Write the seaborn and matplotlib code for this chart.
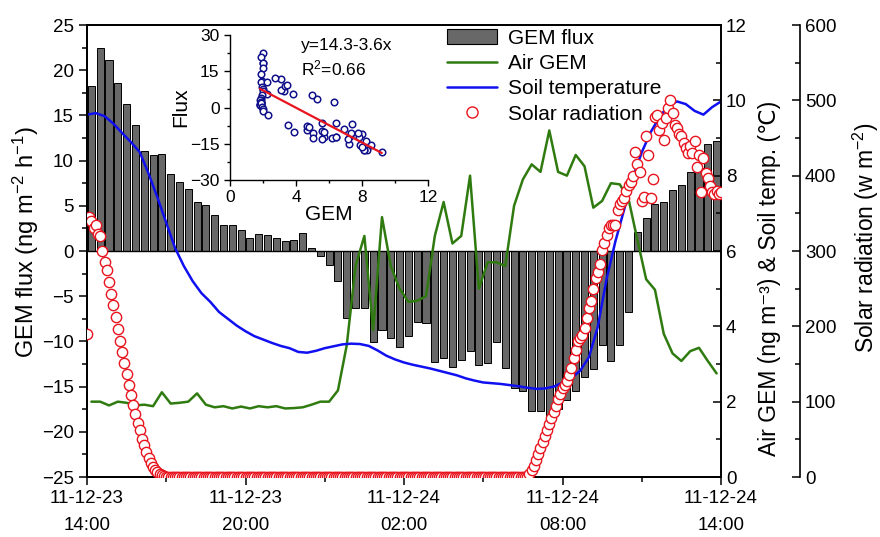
import numpy as np
import seaborn as sns
import matplotlib.pyplot as plt
from matplotlib.patches import Patch
from matplotlib.lines import Line2D
from matplotlib.ticker import MultipleLocator

# ------------------------------------------------
# data (time = hours after 11-12-23 14:00)
# ------------------------------------------------
# GEM flux (ng m-2 h-1), one value per 20-min run, centred in the run
flux = [18.3, 22.5, 21.1, 18.6, 16.3, 13.9, 11.1, 10.6, 10.7, 8.5, 7.6, 6.9,
        5.4, 5.1, 4.0, 2.9, 2.9, 2.3, 1.4, 1.9, 1.8, 1.4, 1.1, 1.2,
        2.0, 0.3, -0.5, -1.6, -3.3, -7.4, -6.3, -6.3, -10.1, -8.7, -9.6, -10.6,
        -9.4, -7.8, -8.0, -12.3, -11.8, -12.8, -12.1, -11.1, -12.6, -12.4, -10.1, -12.9,
        -15.2, -15.5, -17.7, -17.7, -18.5, -17.5, -16.5, -15.5, -13.9, -13.0, -10.4, -12.2,
        -10.4, -6.7, 2.1, 3.7, 5.2, 5.4, 6.7, 7.3, 8.7, 9.2, 11.8, 12.2]

# Air GEM (ng m-3), same runs as the flux
air_gem = [2.0, 2.0, 1.9, 2.0, 1.97, 1.9, 1.92, 1.88, 2.25, 1.95, 1.97, 2.0,
           2.22, 1.92, 1.85, 1.88, 1.82, 1.87, 1.82, 1.88, 1.85, 1.88, 1.82, 1.83,
           1.85, 1.92, 2.0, 2.0, 2.3, 3.5, 5.6, 6.4, 3.9, 6.9, 5.6, 5.0,
           4.65, 4.68, 4.8, 6.4, 7.3, 6.2, 6.4, 8.0, 5.0, 5.7, 5.7, 5.6,
           7.2, 7.9, 8.3, 8.1, 9.2, 8.1, 8.0, 8.55, 8.25, 7.15, 7.33, 7.8,
           7.77, 7.38, 6.3, 5.25, 4.97, 3.8, 3.28, 3.08, 3.34, 3.43, 3.08, 2.75]

# soil temperature (C), every 20 min from 14:00 to 14:00
soil_temp = [9.62, 9.66, 9.58, 9.38, 9.13, 8.89, 8.62, 8.05, 7.42, 6.75, 6.08, 5.6,
             5.2, 4.88, 4.65, 4.38, 4.2, 4.02, 3.87, 3.74, 3.65, 3.56, 3.48, 3.42,
             3.32, 3.3, 3.35, 3.42, 3.47, 3.52, 3.54, 3.53, 3.48, 3.36, 3.22, 3.12,
             3.04, 2.98, 2.93, 2.88, 2.82, 2.76, 2.7, 2.62, 2.56, 2.51, 2.49, 2.47,
             2.44, 2.41, 2.37, 2.34, 2.35, 2.4, 2.5, 2.62, 2.82, 3.18, 3.98, 5.25,
             6.25, 7.1, 7.95, 8.62, 9.15, 9.55, 9.86, 9.97, 9.9, 9.72, 9.62, 9.82, 9.97]

# solar radiation (w m-2), every 5 min from 14:00 to 14:00
solar_evening = [190, 345, 340, 330, 335, 322, 320, 300, 285, 275, 259, 243,
                 228, 212, 196, 180, 166, 151, 137, 122, 109, 96, 84, 72,
                 62, 51, 42, 33, 25, 18, 13, 9, 6, 4, 2, 1]
solar_night = [0] * 164
solar_morning = [0, 4, 9, 15, 22, 30, 38, 46, 54, 62, 70, 78,
                 86, 94, 103, 110, 118, 122, 128, 135, 145, 158, 168, 180,
                 185, 188, 198, 211, 225, 233, 250, 264, 272, 283, 301, 310,
                 321, 330, 334, 335, 334, 355, 362, 366, 370, 380, 387, 392,
                 400, 432, 415, 405, 367, 372, 452, 428, 371, 395, 478, 481,
                 461, 470, 448, 476, 490, 500, 483, 467, 463, 455, 452, 443,
                 437, 430, 440, 430, 446, 411, 428, 378, 424, 404, 397, 386,
                 378, 375, 380, 375, 378]
solar = solar_evening + solar_night + solar_morning

flux_hours = (np.arange(len(flux)) + 0.5) / 3
soil_hours = np.arange(len(soil_temp)) / 3
solar_hours = np.arange(len(solar)) / 12

tick_hours = [0, 6, 12, 18, 24]
tick_labels = ["11-12-23\n14:00", "11-12-23\n20:00", "11-12-24\n02:00",
               "11-12-24\n08:00", "11-12-24\n14:00"]

fit_intercept, fit_slope = 14.3, -3.6

# ------------------------------------------------
# style
# ------------------------------------------------
sns.set_style("ticks")
plt.rcParams["font.family"] = ["Liberation Sans", "DejaVu Sans"]
plt.rcParams["mathtext.fontset"] = "custom"
plt.rcParams["mathtext.rm"] = "Liberation Sans"
plt.rcParams["mathtext.default"] = "regular"
for key in ("text.color", "axes.labelcolor", "xtick.color", "ytick.color", "axes.edgecolor"):
    plt.rcParams[key] = "black"

bar_grey = "#686868"
green = "#2f7b10"
blue = "#1010f0"
red = "#e8141e"

fig = plt.figure(figsize=(8.8, 5.37), dpi=100)
ax = fig.add_axes([87 / 880, 1 - 477 / 537, 634 / 880, 452 / 537])
ax2 = ax.twinx()
ax3 = ax.twinx()
ax3.spines["right"].set_position(("outward", 57))

# bars
sns.barplot(x=flux_hours, y=flux, native_scale=True, ax=ax, color=bar_grey,
            saturation=1, edgecolor="black", linewidth=0.7, width=0.8)
ax.axhline(0, color="black", lw=1)

# lines on the right axis
sns.lineplot(x=flux_hours, y=air_gem, ax=ax2, color=green, lw=1.8)
sns.lineplot(x=soil_hours, y=soil_temp, ax=ax2, color=blue, lw=1.8)

# solar radiation circles
sns.scatterplot(x=solar_hours, y=solar, ax=ax3, color="white", edgecolor=red,
                linewidth=1.0, s=55, zorder=5)

ax.set_xlim(0, 24)
ax.set_ylim(-25, 25)
ax2.set_ylim(0, 12)
ax3.set_ylim(0, 600)

ax.set_xticks(tick_hours)
ax.set_xticklabels(tick_labels, linespacing=1.75)
ax.xaxis.set_minor_locator(MultipleLocator(3))
ax.yaxis.set_major_locator(MultipleLocator(5))
ax.yaxis.set_minor_locator(MultipleLocator(2.5))
ax.tick_params(axis="both", which="major", direction="out", length=6, width=1.1,
               labelsize=13.5, top=False)
ax.tick_params(axis="both", which="minor", direction="out", length=3.5, width=1.1, top=False)

ax2.yaxis.set_major_locator(MultipleLocator(2))
ax2.yaxis.set_minor_locator(MultipleLocator(1))
ax2.tick_params(axis="y", which="major", direction="in", length=6, width=1.1, labelsize=13.5)
ax2.tick_params(axis="y", which="minor", direction="in", length=3.5, width=1.1)

ax3.yaxis.set_major_locator(MultipleLocator(100))
ax3.yaxis.set_minor_locator(MultipleLocator(50))
ax3.tick_params(axis="y", which="major", direction="in", length=6, width=1.1, labelsize=13.5)
ax3.tick_params(axis="y", which="minor", direction="in", length=3.5, width=1.1)

for a in (ax, ax2, ax3):
    for s in a.spines.values():
        s.set_linewidth(1.2)

ax.set_xlabel("")
ax.set_ylabel("GEM flux (ng m$^{-2}$ h$^{-1}$)", fontsize=17)
# plain text here so that the degree-Celsius sign can fall back to DejaVu Sans
ax2.set_ylabel("Air GEM (ng m\u207b\u00b3) & Soil temp. (\u2103)", fontsize=16.5)
ax3.set_ylabel("Solar radiation (w m$^{-2}$)", fontsize=16.5)
ax.yaxis.set_label_coords(-0.072, 0.52)
ax2.yaxis.set_label_coords(1.058, 0.44)
ax3.yaxis.set_label_coords(1.205, 0.53)

handles = [Patch(facecolor=bar_grey, edgecolor="black", linewidth=0.8),
           Line2D([], [], color=green, lw=1.8),
           Line2D([], [], color=blue, lw=1.8),
           Line2D([], [], ls="none", marker="o", markersize=8, markerfacecolor="white",
                  markeredgecolor=red)]
ax3.legend(handles, ["GEM flux", "Air GEM", "Soil temperature", "Solar radiation"],
           loc="upper left", bbox_to_anchor=(0.555, 1.01), frameon=False,
           fontsize=15, handlelength=2.4, labelspacing=0.3, handletextpad=0.5,
           borderaxespad=0)

# ------------------------------------------------
# inset: flux vs air GEM
# ------------------------------------------------
ins = fig.add_axes([230 / 880, 1 - 180 / 537, 198 / 880, 145 / 537])
ins.patch.set_alpha(0)
sns.scatterplot(x=air_gem, y=flux, ax=ins, color="white", edgecolor="#10108a",
                linewidth=1.1, s=22)
fit_x = np.array([min(air_gem), max(air_gem)])
ins.plot(fit_x, fit_intercept + fit_slope * fit_x, color=red, lw=1.6)
ins.set_xlim(0, 12)
ins.set_ylim(-30, 30)
ins.set_xticks([0, 4, 8, 12])
ins.set_yticks([-30, -15, 0, 15, 30])
ins.xaxis.set_minor_locator(MultipleLocator(2))
ins.yaxis.set_minor_locator(MultipleLocator(7.5))
ins.tick_params(which="major", direction="out", length=4, width=1, labelsize=12.5)
ins.tick_params(which="minor", direction="out", length=2, width=1)
for s in ins.spines.values():
    s.set_linewidth(1.0)
sns.despine(ax=ins)
ins.set_xlabel("GEM", fontsize=15, labelpad=0)
ins.set_ylabel("Flux", fontsize=15, labelpad=0)
ins.text(0.36, 0.93, "y=14.3-3.6x", transform=ins.transAxes, fontsize=12.5, va="center")
ins.text(0.36, 0.77, "R$^{2}$=0.66", transform=ins.transAxes, fontsize=12.5, va="center")

fig.savefig("out.png", dpi=100)
